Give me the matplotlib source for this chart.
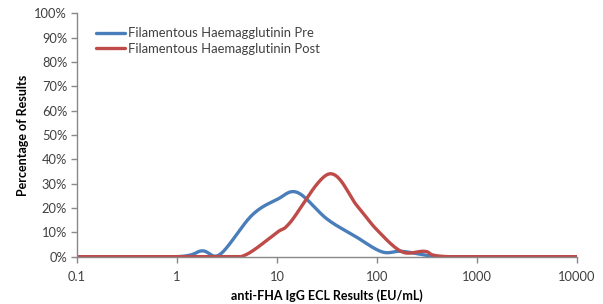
import numpy as np
import matplotlib
matplotlib.use("Agg")
import matplotlib.pyplot as plt
from matplotlib.ticker import FixedLocator, FixedFormatter

# ---- data ----
pre_x = [0.1, 1, 1.78, 2.7, 5.6, 10, 16, 31.6, 60, 112, 178, 355, 500, 10000]
pre_y = [0, 0, 2.4, 1.0, 17.0, 23.5, 26.4, 15.5, 8.5, 2.0, 2.2, 0.2, 0, 0]

post_x = [0.1, 1, 3.2, 5.0, 10, 13.5, 33, 63, 100, 178, 302, 525, 10000]
post_y = [0, 0, 0, 1.0, 10.0, 14.0, 34.0, 21.0, 11.0, 2.0, 2.2, 0, 0]

series_names = ["Filamentous Haemagglutinin Pre", "Filamentous Haemagglutinin Post"]
series_colors = ["#4A7EBB", "#BE4B48"]
xticks = [0.1, 1, 10, 100, 1000, 10000]
xtick_labels = ["0.1", "1", "10", "100", "1000", "10000"]
yticks = list(range(0, 101, 10))
ytick_labels = [f"{v}%" for v in yticks]


def excel_smooth(xs, ys, n=30):
    """Excel-like smoothed line (cubic Bezier, tension 1/6) in log-x space."""
    lx = np.log10(np.asarray(xs, float))
    y = np.asarray(ys, float)
    P = np.column_stack([lx, y])
    out = [P[0]]
    t = np.linspace(0, 1, n)[1:]
    for i in range(len(P) - 1):
        p0 = P[i - 1] if i > 0 else P[i]
        p1 = P[i]
        p2 = P[i + 1]
        p3 = P[i + 2] if i + 2 < len(P) else P[i + 1]
        c1 = p1 + (p2 - p0) / 6.0
        c2 = p2 - (p3 - p1) / 6.0
        seg = ((1 - t) ** 3)[:, None] * p1 + (3 * (1 - t) ** 2 * t)[:, None] * c1 \
            + (3 * (1 - t) * t ** 2)[:, None] * c2 + (t ** 3)[:, None] * p2
        out.extend(seg)
    out = np.array(out)
    return 10 ** out[:, 0], np.clip(out[:, 1], 0, None)


plt.rcParams['font.family'] = ['Lato', 'DejaVu Sans']

fig = plt.figure(figsize=(6.03, 3.04), dpi=100)
ax = fig.add_axes([77 / 603, (304 - 256.7) / 304, 500 / 603, 243.3 / 304])

for xs, ys, name, col in zip([pre_x, post_x], [pre_y, post_y], series_names, series_colors):
    sx, sy = excel_smooth(xs, ys)
    ax.plot(sx, sy, color=col, lw=2.4, label=name, solid_capstyle='round', solid_joinstyle='round')

ax.set_xscale('log')
ax.set_xlim(0.1, 10000)
ax.set_ylim(0, 100)
ax.xaxis.set_major_locator(FixedLocator(xticks))
ax.xaxis.set_major_formatter(FixedFormatter(xtick_labels))
ax.xaxis.set_minor_locator(FixedLocator([]))
ax.set_yticks(yticks)
ax.set_yticklabels(ytick_labels)

for s in ['top', 'right']:
    ax.spines[s].set_visible(False)
for s in ['left', 'bottom']:
    ax.spines[s].set_color('#898989')
    ax.spines[s].set_linewidth(1.0)
ax.tick_params(axis='both', direction='out', length=4, width=1, color='#898989',
               labelsize=9.3, labelcolor='#404040')
ax.tick_params(axis='x', pad=6)
ax.tick_params(axis='y', pad=3)

ax.set_xlabel("anti-FHA IgG ECL Results (EU/mL)", fontsize=9, fontweight='bold',
              color='#000000', labelpad=5)
ax.set_ylabel("Percentage of Results", fontsize=9, fontweight='bold',
              color='#000000', labelpad=4)

leg = ax.legend(loc='upper left', bbox_to_anchor=(0.027, 0.965), frameon=False,
                fontsize=9.4, handlelength=2.25, handletextpad=0.25, labelspacing=0.3,
                borderaxespad=0)
for t in leg.get_texts():
    t.set_color('#404040')

fig.savefig("out.png", dpi=100)
